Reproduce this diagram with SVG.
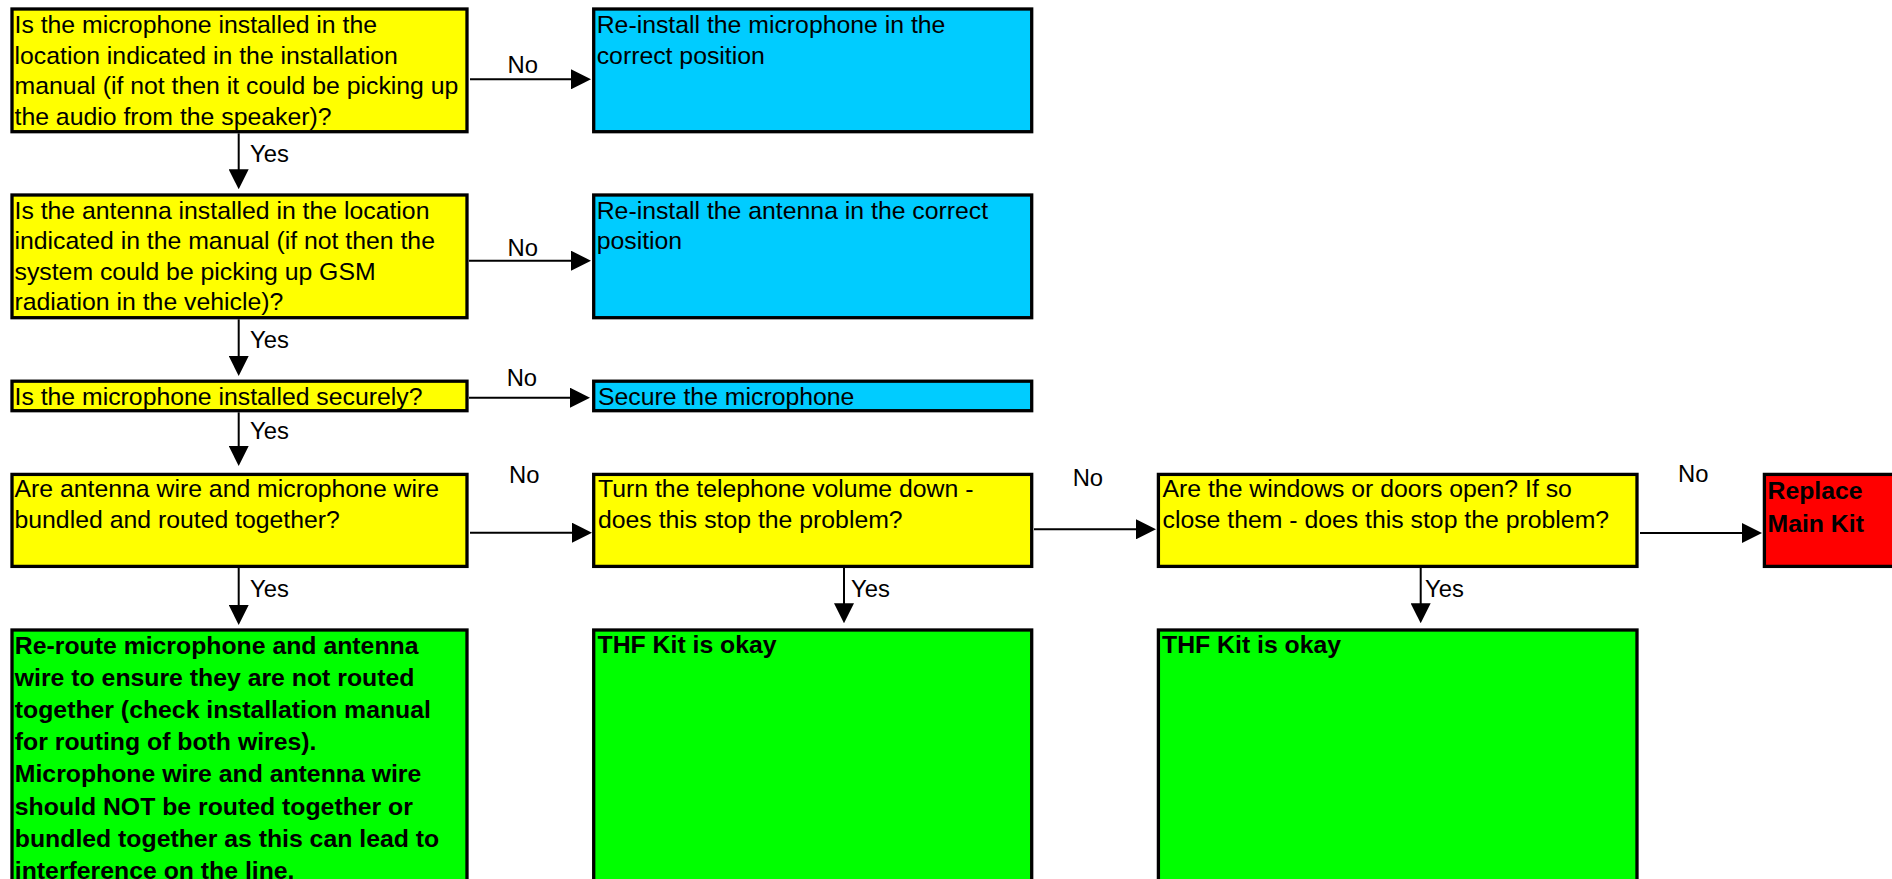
<svg xmlns="http://www.w3.org/2000/svg" width="1892" height="879" viewBox="0 0 1892 879">
<style>
.box{stroke:#000;stroke-width:3.3}
.q{fill:#ffff00}
.a{fill:#00ccff}
.ok{fill:#00ff00}
.bad{fill:#ff0000}
.t{font-family:"Liberation Sans",Arial,sans-serif;font-size:24.8px;fill:#000}
.b{font-weight:bold}
.lbl{font-family:"Liberation Sans",Arial,sans-serif;font-size:23.8px;fill:#000}
.c{stroke:#000;stroke-width:2;fill:none;marker-end:url(#ah)}
</style>
<defs>
<marker id="ah" viewBox="0 0 20 20" refX="2" refY="10" markerWidth="20" markerHeight="20" markerUnits="userSpaceOnUse" orient="auto">
<path d="M0,0 L20,10 L0,20 z" fill="#000"/>
</marker>
</defs>
<rect width="1892" height="879" fill="#fff"/>

<g id="connectors">
<path class="c" d="M238.7,133.3 V171.3"/>
<path class="c" d="M238.7,319.3 V358"/>
<path class="c" d="M238.7,412.3 V448"/>
<path class="c" d="M238.7,568 V607"/>
<path class="c" d="M844,568 V605.3"/>
<path class="c" d="M1420.7,568 V605.3"/>
<path class="c" d="M470,79.3 H573"/>
<path class="c" d="M469,260.7 H573"/>
<path class="c" d="M469,397.7 H572"/>
<path class="c" d="M470,532.7 H574"/>
<path class="c" d="M1034,529.3 H1138"/>
<path class="c" d="M1640,533 H1744"/>
<text class="lbl" x="507.5" y="72.7">No</text>
<text class="lbl" x="507.5" y="256">No</text>
<text class="lbl" x="506.7" y="386">No</text>
<text class="lbl" x="509" y="483.3">No</text>
<text class="lbl" x="1072.7" y="485.7">No</text>
<text class="lbl" x="1678" y="481.7">No</text>
<text class="lbl" x="250" y="161.7">Yes</text>
<text class="lbl" x="250" y="348.3">Yes</text>
<text class="lbl" x="250" y="439.3">Yes</text>
<text class="lbl" x="250" y="596.7">Yes</text>
<text class="lbl" x="851" y="596.7">Yes</text>
<text class="lbl" x="1425" y="596.7">Yes</text>
</g>

<g id="q1">
<rect class="box q" x="12" y="9" width="455" height="122.7"/>
<text class="t" x="14.5" y="33.3">Is the microphone installed in the</text>
<text class="t" x="14.5" y="63.8">location indicated in the installation</text>
<text class="t" x="14.5" y="94.3">manual (if not then it could be picking up</text>
<text class="t" x="14.5" y="124.8">the audio from the speaker)?</text>
</g>

<g id="a1">
<rect class="box a" x="593.7" y="9" width="438" height="122.7"/>
<text class="t" x="596.7" y="33.3">Re-install the microphone in the</text>
<text class="t" x="596.7" y="63.8">correct position</text>
</g>

<g id="q2">
<rect class="box q" x="12" y="195" width="455" height="122.7"/>
<text class="t" x="14.5" y="218.5">Is the antenna installed in the location</text>
<text class="t" x="14.5" y="249">indicated in the manual (if not then the</text>
<text class="t" x="14.5" y="279.5">system could be picking up GSM</text>
<text class="t" x="14.5" y="310">radiation in the vehicle)?</text>
</g>

<g id="a2">
<rect class="box a" x="593.7" y="195" width="438" height="122.7"/>
<text class="t" x="596.7" y="218.5">Re-install the antenna in the correct</text>
<text class="t" x="596.7" y="249">position</text>
</g>

<g id="q3">
<rect class="box q" x="12" y="381.2" width="455" height="29.5"/>
<text class="t" x="14.5" y="405">Is the microphone installed securely?</text>
</g>

<g id="a3">
<rect class="box a" x="593.7" y="381.2" width="438" height="29.5"/>
<text class="t" x="598" y="405">Secure the microphone</text>
</g>

<g id="q4">
<rect class="box q" x="12" y="474.4" width="455" height="92"/>
<text class="t" x="14.5" y="497">Are antenna wire and microphone wire</text>
<text class="t" x="14.5" y="528">bundled and routed together?</text>
</g>

<g id="q5">
<rect class="box q" x="593.7" y="474.4" width="438" height="92"/>
<text class="t" x="598" y="497.3">Turn the telephone volume down -</text>
<text class="t" x="598" y="528.3">does this stop the problem?</text>
</g>

<g id="q6">
<rect class="box q" x="1158.4" y="474.4" width="478.6" height="92"/>
<text class="t" x="1162.5" y="496.7">Are the windows or doors open? If so</text>
<text class="t" x="1162.5" y="528">close them - does this stop the problem?</text>
</g>

<g id="r1">
<rect class="box bad" x="1764.4" y="474.4" width="200" height="92"/>
<text class="t b" x="1767.5" y="499.3">Replace</text>
<text class="t b" x="1767.5" y="531.7">Main Kit</text>
</g>

<g id="g1">
<rect class="box ok" x="12" y="630" width="455" height="300"/>
<text class="t b" x="14.8" y="654">Re-route microphone and antenna</text>
<text class="t b" x="14.8" y="686.1">wire to ensure they are not routed</text>
<text class="t b" x="14.8" y="718.2">together (check installation manual</text>
<text class="t b" x="14.8" y="750.3">for routing of both wires).</text>
<text class="t b" x="14.8" y="782.4">Microphone wire and antenna wire</text>
<text class="t b" x="14.8" y="814.5">should NOT be routed together or</text>
<text class="t b" x="14.8" y="846.6">bundled together as this can lead to</text>
<text class="t b" x="14.8" y="878.7">interference on the line.</text>
</g>

<g id="g2">
<rect class="box ok" x="593.7" y="630" width="438" height="300"/>
<text class="t b" x="597.5" y="653.3">THF Kit is okay</text>
</g>

<g id="g3">
<rect class="box ok" x="1158.4" y="630" width="478.6" height="300"/>
<text class="t b" x="1162" y="653.3">THF Kit is okay</text>
</g>
</svg>
